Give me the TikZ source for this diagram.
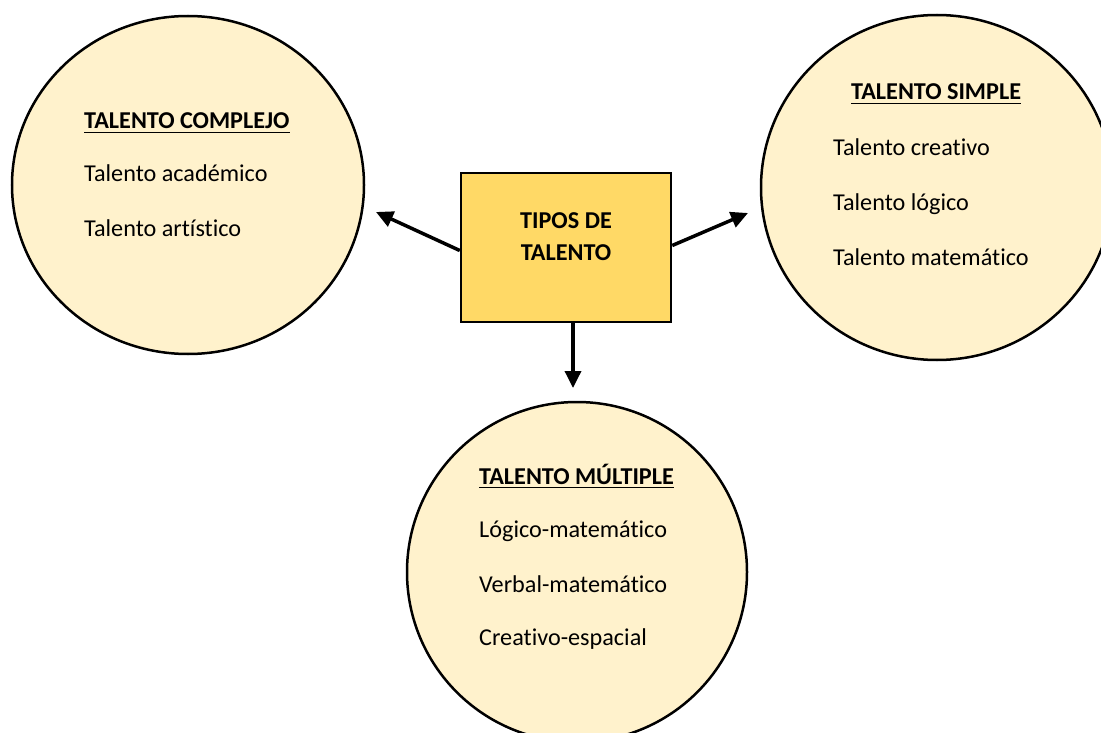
\documentclass[tikz,border=0pt]{standalone}
\usepackage{fontspec}
\setmainfont{Carlito}[Ligatures=NoCommon]
\usetikzlibrary{arrows.meta,shapes.geometric,calc}
\definecolor{circfill}{HTML}{FFF2CC}
\definecolor{boxfill}{HTML}{FFD966}
\begin{document}
\begin{tikzpicture}[x=1pt,y=-1pt,
  bubble/.style={ellipse, draw=black, line width=2.5pt, fill=circfill, inner sep=0pt},
  hub/.style={rectangle, draw=black, line width=2.5pt, fill=boxfill, inner sep=0pt, minimum width=210pt, minimum height=149pt},
  item/.style={anchor=base west, inner sep=0pt, font=\fontsize{24.2}{28}\selectfont},
  head/.style={anchor=base west, inner sep=0pt, font=\bfseries\fontsize{24.2}{28}\selectfont},
  hubtext/.style={anchor=base, inner sep=0pt, font=\bfseries\fontsize{24.2}{28}\selectfont},
  uline/.style={line width=1.6pt},
  link/.style={line width=3.5pt, -{Triangle[length=17pt,width=16pt]}}]
\useasboundingbox (0,0) rectangle (1101,733);
\clip (0,0) rectangle (1101,733);

% bubbles
\node[bubble, minimum width=352pt, minimum height=338pt] (cl) at (188,185) {};
\node[bubble, minimum width=352pt, minimum height=345pt] (cr) at (937,187.5) {};
\node[bubble, minimum width=340pt, minimum height=340pt] (cb) at (577,572) {};

% left texts
\node[head] (tl) at (84,129) {TALENTO COMPLEJO};
\draw[uline] ([yshift=-3.5pt]tl.base west) -- ([yshift=-3.5pt]tl.base east);
\node[item] (l1) at (84,182) {Talento académico};
\node[item] (l2) at (84,236.5) {Talento artístico};

% right texts
\node[head] (tr) at (851,100) {TALENTO SIMPLE};
\draw[uline] ([yshift=-3.5pt]tr.base west) -- ([yshift=-3.5pt]tr.base east);
\node[item] (r1) at (833,156) {Talento creativo};
\node[item] (r2) at (833,211) {Talento lógico};
\node[item] (r3) at (833,265) {Talento matemático};

% bottom texts
\node[head] (tb) at (479,484) {TALENTO MÚLTIPLE};
\draw[uline] ([yshift=-3.5pt]tb.base west) -- ([yshift=-3.5pt]tb.base east);
\node[item] (b1) at (479,537) {Lógico-matemático};
\node[item] (b2) at (479,592) {Verbal-matemático};
\node[item] (b3) at (479,645) {Creativo-espacial};

% hub
\node[hub] (box) at (566,247.5) {};
\node[hubtext] (h1) at (566,228) {TIPOS DE};
\node[hubtext] (h2) at (566,260) {TALENTO};

% arrow ends
\coordinate (el) at (376,212);
\coordinate (er) at (748,213);
\coordinate (eb) at (573,388);

\draw[link] ([yshift=-3pt]box.west) -- (el);
\draw[link] ([yshift=2pt]box.east) -- (er);
\draw[link] ([xshift=7pt]box.south) -- (eb);
\end{tikzpicture}
\end{document}
